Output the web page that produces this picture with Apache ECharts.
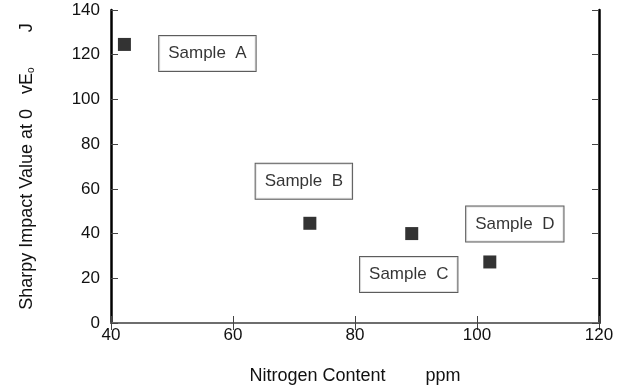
<!DOCTYPE html>
<html>
<head>
<meta charset="utf-8">
<script src="https://cdn.jsdelivr.net/npm/echarts@6/dist/echarts.min.js"></script>
<style>
  html, body { margin: 0; padding: 0; background: #fff; }
  #chart { width: 629px; height: 389px; }
</style>
</head>
<body>
<div id="chart"></div>
<script>
  // nitrogen content (ppm) vs Sharpy impact value (J)
  const sampleNames = ["Sample  A", "Sample  B", "Sample  C", "Sample  D"];
  const nitrogen = [42.2, 72.6, 89.3, 102.1];
  const impact = [124.6, 44.6, 40.0, 27.3];
  const xTicks = [40, 60, 80, 100, 120];
  const yTicks = [0, 20, 40, 60, 80, 100, 120, 140];

  // where each label box sits relative to its point (px)
  const labelOffsets = [[83, 9], [-6, -42], [-3, 41], [25, -38]];

  const font = "'Liberation Sans', Arial, sans-serif";
  // negative length draws the ticks into the plot
  const tick = { inside: false, length: -7, lineStyle: { color: "#444" } };

  const points = nitrogen.map((x, i) => ({
    value: [x, impact[i]],
    name: sampleNames[i],
    label: { offset: labelOffsets[i] },
  }));

  const chart = echarts.init(document.getElementById("chart"));
  chart.setOption({
    animation: false,
    grid: {
      left: 111, right: 30, top: 10, bottom: 66,
      containLabel: false,
      outerBoundsMode: "none",
    },
    xAxis: [
      {
        type: "value",
        position: "bottom",
        min: xTicks[0],
        max: xTicks[xTicks.length - 1],
        interval: 20,
        name: "Nitrogen Content        ppm",
        nameLocation: "middle",
        nameGap: 44,
        nameTextStyle: { fontFamily: font, fontSize: 18, color: "#111" },
        axisLine: { lineStyle: { color: "#666", width: 1.5 } },
        axisTick: tick,
        axisLabel: { fontFamily: font, fontSize: 17, color: "#111", margin: 4 },
        splitLine: { show: false },
      },
      {
        type: "value",
        position: "top",
        min: xTicks[0],
        max: xTicks[xTicks.length - 1],
        interval: 20,
        axisLine: { show: true, lineStyle: { color: "#666", width: 1.5 } },
        axisTick: tick,
        axisLabel: { show: false },
        splitLine: { show: false },
      },
    ],
    yAxis: [
      {
        type: "value",
        position: "left",
        min: yTicks[0],
        max: yTicks[yTicks.length - 1],
        interval: 20,
        name: "{t|Sharpy Impact Value at 0   vE}{s|o}{t|       J}",
        nameLocation: "middle",
        nameGap: 75,
        nameTextStyle: {
          rich: {
            t: { fontFamily: font, fontSize: 18, color: "#111" },
            s: { fontFamily: font, fontSize: 10, color: "#111", verticalAlign: "bottom" },
          },
        },
        axisLine: { show: true, lineStyle: { color: "#000", width: 2.5 } },
        axisTick: tick,
        axisLabel: { fontFamily: font, fontSize: 17, color: "#111", margin: 11 },
        splitLine: { show: false },
      },
      {
        type: "value",
        position: "right",
        min: yTicks[0],
        max: yTicks[yTicks.length - 1],
        interval: 20,
        axisLine: { show: true, lineStyle: { color: "#000", width: 2.5 } },
        axisTick: tick,
        axisLabel: { show: false },
        splitLine: { show: false },
      },
    ],
    series: [
      {
        type: "scatter",
        xAxisIndex: 0,
        yAxisIndex: 0,
        symbol: "rect",
        symbolSize: 13,
        itemStyle: { color: "#000" },
        label: {
          show: true,
          position: "inside",
          formatter: (p) => p.name,
          fontFamily: font,
          fontSize: 17,
          color: "#000",
          backgroundColor: "#fff",
          borderColor: "#333",
          borderWidth: 1,
          padding: [9, 9],
        },
        data: points,
      },
    ],
  });
</script>
</body>
</html>
